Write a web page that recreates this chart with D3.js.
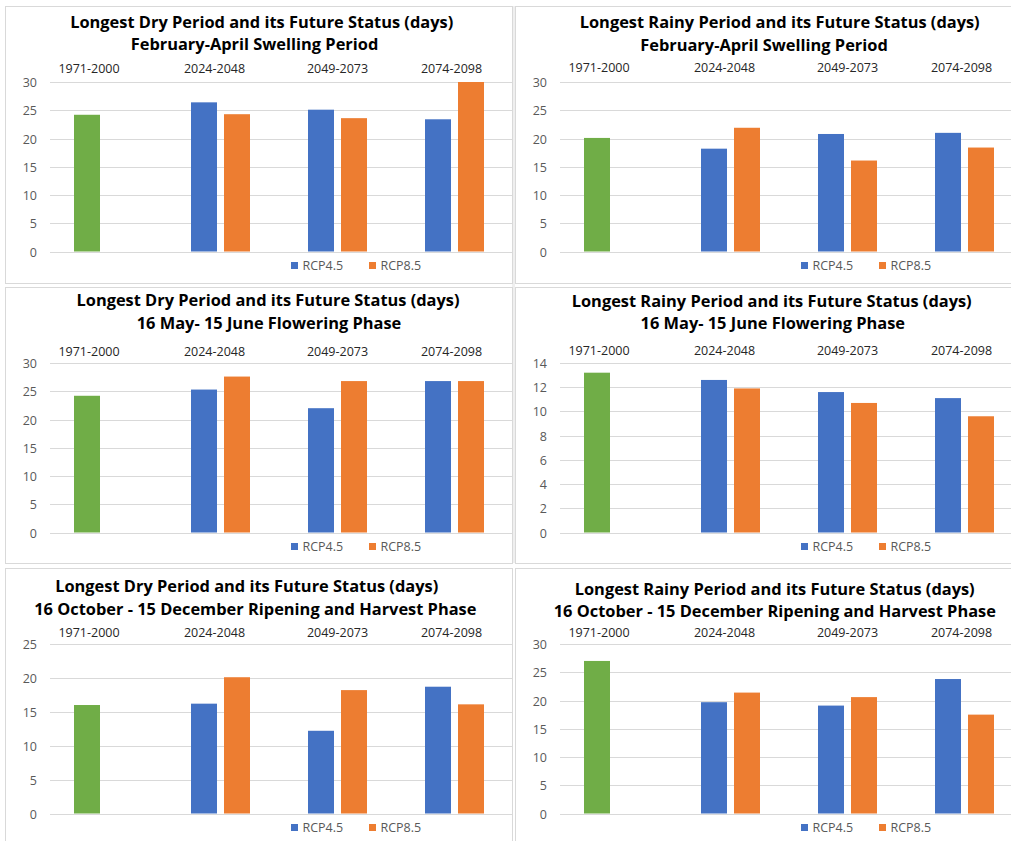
<!DOCTYPE html>
<html>
<head>
<meta charset="utf-8">
<script src="https://cdn.jsdelivr.net/npm/d3@7"></script>
<style>
  html, body { margin: 0; padding: 0; background: #ffffff; }
  svg { display: block; }
</style>
</head>
<body>
<script>
// Period labels along the top of each chart
const categories = ["1971-2000", "2024-2048", "2049-2073", "2074-2098"];
const seriesNames = ["RCP4.5", "RCP8.5"];

// Longest dry / rainy spells in days. The first slot of each RCP4.5 array is
// the 1971-2000 baseline (drawn in green); RCP8.5 has no baseline value.
const dryFebAprRcp45 = [24.2, 26.4, 25.1, 23.4];
const dryFebAprRcp85 = [null, 24.3, 23.6, 30.0];
const rainyFebAprRcp45 = [20.1, 18.2, 20.8, 21.0];
const rainyFebAprRcp85 = [null, 21.9, 16.1, 18.4];
const dryMayJunRcp45 = [24.2, 25.3, 22.0, 26.8];
const dryMayJunRcp85 = [null, 27.6, 26.8, 26.8];
const rainyMayJunRcp45 = [13.2, 12.6, 11.6, 11.1];
const rainyMayJunRcp85 = [null, 11.9, 10.7, 9.6];
const dryOctDecRcp45 = [16.0, 16.2, 12.2, 18.7];
const dryOctDecRcp85 = [null, 20.1, 18.2, 16.1];
const rainyOctDecRcp45 = [27.0, 19.7, 19.1, 23.8];
const rainyOctDecRcp85 = [null, 21.4, 20.6, 17.5];

const titleDry = "Longest Dry Period and its Future Status (days)";
const titleRainy = "Longest Rainy Period and its Future Status (days)";
const phaseLabels = [
  "February-April Swelling Period",
  "16 May- 15 June Flowering Phase",
  "16 October - 15 December Ripening and Harvest Phase"
];

// Value axis extents and tick steps, one per chart
const axisMax = [30, 30, 30, 14, 25, 30];
const axisStep = [5, 5, 5, 2, 5, 5];

const colors = { base: "#70AD47", "RCP4.5": "#4472C4", "RCP8.5": "#ED7D31" };

const panels = [
  { col: 0, row: 0, t1: titleDry,   t2: phaseLabels[0], a: dryFebAprRcp45,   b: dryFebAprRcp85,   ymax: axisMax[0], step: axisStep[0], tx: [256.7, 249.5], ty: [16.7, 37.3], ly: 62.7 },
  { col: 1, row: 0, t1: titleRainy, t2: phaseLabels[0], a: rainyFebAprRcp45, b: rainyFebAprRcp85, ymax: axisMax[1], step: axisStep[1], tx: [264.7, 249.0], ty: [17.3, 38.0], ly: 61.7 },
  { col: 0, row: 1, t1: titleDry,   t2: phaseLabels[1], a: dryMayJunRcp45,   b: dryMayJunRcp85,   ymax: axisMax[2], step: axisStep[2], tx: [263.0, 264.0], ty: [14.0, 34.7], ly: 64.7 },
  { col: 1, row: 1, t1: titleRainy, t2: phaseLabels[1], a: rainyMayJunRcp45, b: rainyMayJunRcp85, ymax: axisMax[3], step: axisStep[3], tx: [256.7, 257.8], ty: [15.3, 34.7], ly: 63.7 },
  { col: 0, row: 2, t1: titleDry,   t2: phaseLabels[2], a: dryOctDecRcp45,   b: dryOctDecRcp85,   ymax: axisMax[4], step: axisStep[4], tx: [241.7, 250.3], ty: [19.0, 39.7], ly: 64.7 },
  { col: 1, row: 2, t1: titleRainy, t2: phaseLabels[2], a: rainyOctDecRcp45, b: rainyOctDecRcp85, ymax: axisMax[5], step: axisStep[5], tx: [259.7, 259.8], ty: [21.7, 42.3], ly: 64.0 }
];

const W = 1011, H = 841;
const colX = [5, 515];
const rowY = [6, 287, 568];
const panelW = 507, panelH = [277, 276, 290];

const FONT = "'Open Sans', 'Noto Sans', sans-serif";
const TITLE_SIZE = 16.4;
const TITLE_LINE_GAP = 22.6; // keeps the two title lines from touching

const svg = d3.select("body").append("svg")
  .attr("width", W).attr("height", H)
  .style("font-family", FONT);

svg.append("rect").attr("width", W).attr("height", H).attr("fill", "#ffffff");
// narrow grey gutter between the two columns
svg.append("rect").attr("x", 512).attr("y", 6).attr("width", 3).attr("height", 557).attr("fill", "#efefef");

const plotLeft = 40, plotRight = 508, plotTop = 76, plotBottom = 245.5;

panels.forEach(p => {
  const x0 = colX[p.col], y0 = rowY[p.row];
  const g = svg.append("g").attr("transform", `translate(${x0},${y0})`);

  g.append("rect")
    .attr("x", 0.5).attr("y", 0.5)
    .attr("width", panelW).attr("height", panelH[p.row])
    .attr("fill", "#ffffff").attr("stroke", "#d9d9d9").attr("stroke-width", 1);

  const body = g.append("g");

  const x = d3.scaleBand().domain(categories).range([plotLeft, plotRight]).padding(0);
  const xs = d3.scaleBand().domain(seriesNames)
    .range([(x.bandwidth() - 59) / 2, (x.bandwidth() + 59) / 2])
    .paddingInner(7 / 33).paddingOuter(0);
  const y = d3.scaleLinear().domain([0, p.ymax]).range([plotBottom, plotTop]);
  const ticks = d3.range(0, p.ymax + 0.001, p.step);

  // gridlines
  body.selectAll("line.grid").data(ticks).join("line")
    .attr("x1", plotLeft + 5).attr("x2", panelW)
    .attr("y1", d => Math.round(y(d)) + 0.5).attr("y2", d => Math.round(y(d)) + 0.5)
    .attr("stroke", "#d9d9d9").attr("stroke-width", 1);

  // value axis labels
  const yAxis = d3.axisLeft(y).tickValues(ticks).tickSize(0).tickPadding(0).tickFormat(d3.format("d"));
  const ya = g.append("g").attr("transform", `translate(${plotLeft - 8},0)`).call(yAxis);
  ya.select(".domain").remove();
  ya.selectAll("text")
    .attr("fill", "#595959").style("font-size", "12.5px").style("font-family", FONT)
    .attr("dy", "0.36em");

  // bars
  const rows = categories.map((c, i) => ({ cat: c, i, vals: [
    { s: "RCP4.5", v: p.a[i], base: i === 0 },
    { s: "RCP8.5", v: p.b[i], base: false }
  ] }));

  const cg = body.selectAll("g.cat").data(rows).join("g")
    .attr("transform", d => `translate(${x(d.cat)},0)`);
  cg.selectAll("rect").data(d => d.vals.filter(v => v.v != null)).join("rect")
    .attr("x", d => xs(d.s))
    .attr("width", xs.bandwidth())
    .attr("y", d => y(d.v))
    .attr("height", d => y(0) - y(d.v))
    .attr("fill", d => d.base ? colors.base : colors[d.s]);

  // period labels on top: the baseline label sits over its single bar
  g.selectAll("text.cat").data(categories).join("text")
    .attr("x", (c, i) => i === 0 ? x(c) + xs("RCP4.5") + xs.bandwidth() / 2 + 2 : x(c) + x.bandwidth() / 2 - (i === 1 ? 6 : i === 3 ? 3 : 0))
    .attr("y", p.ly + 4.5)
    .attr("text-anchor", "middle")
    .attr("fill", "#262626")
    .style("font-size", "12.5px")
    .text(c => c);

  // titles, two centred lines
  const mid = (p.ty[0] + p.ty[1]) / 2;
  const gap = Math.max(p.ty[1] - p.ty[0], TITLE_LINE_GAP);
  [p.t1, p.t2].forEach((t, k) => {
    g.append("text")
      .attr("x", p.tx[k]).attr("y", mid + (k === 0 ? -gap / 2 : gap / 2) + 6)
      .attr("text-anchor", "middle")
      .attr("fill", "#000000")
      .style("font-size", TITLE_SIZE + "px").style("font-weight", "700")
      .text(t);
  });

  // legend
  const lg = g.append("g").attr("transform", `translate(286,259.5)`);
  seriesNames.forEach((s, k) => {
    const item = lg.append("g").attr("transform", `translate(${k * 78},0)`);
    item.append("rect").attr("x", 0).attr("y", -3.5).attr("width", 7).attr("height", 7).attr("fill", colors[s]);
    item.append("text").attr("x", 11.5).attr("y", 0).attr("dy", "0.36em")
      .attr("fill", "#595959").style("font-size", "12.5px").text(s);
  });
});
</script>
</body>
</html>
